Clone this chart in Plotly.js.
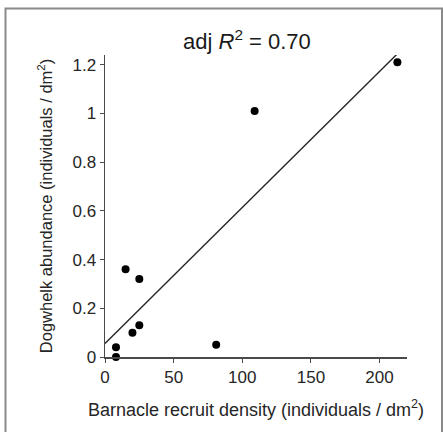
<!DOCTYPE html>
<html>
<head>
<meta charset="utf-8">
<script src="https://cdn.plot.ly/plotly-3.0.1.min.js"></script>
<style>
  html, body { margin: 0; padding: 0; background: #ffffff; }
  #chart { width: 443px; height: 432px; }
</style>
</head>
<body>
<div id="chart"></div>
<script>
// Data
const barnacleDensity = [8, 8, 15, 25, 20, 25, 81, 109, 213];
const dogwhelkAbundance = [0, 0.04, 0.36, 0.32, 0.10, 0.13, 0.05, 1.01, 1.21];
const fitX = [0, 213];
const fitY = [0.055, 1.245];
const xTickVals = [0, 50, 100, 150, 200];
const yTickVals = [0, 0.2, 0.4, 0.6, 0.8, 1, 1.2];

const textColor = '#262626';
const axisColor = '#4a4a4a';

const traces = [
  {
    x: fitX, y: fitY, type: 'scatter', mode: 'lines',
    line: { color: '#262626', width: 1.4 },
    hoverinfo: 'skip', showlegend: false, cliponaxis: false
  },
  {
    x: barnacleDensity, y: dogwhelkAbundance, type: 'scatter', mode: 'markers',
    marker: { color: '#000000', size: 8 },
    showlegend: false, cliponaxis: false
  }
];

const layout = {
  width: 443, height: 432,
  margin: { l: 105, r: 36, t: 55, b: 75 },
  paper_bgcolor: '#ffffff', plot_bgcolor: '#ffffff',
  font: { family: 'Liberation Sans, Arial, sans-serif', color: textColor, size: 17 },
  title: {
    text: 'adj <i>R</i><sup>2</sup> = 0.70',
    font: { size: 22, color: '#1a1a1a' },
    xref: 'paper', x: 0.47, xanchor: 'center',
    yref: 'container', y: 0.905, yanchor: 'middle'
  },
  xaxis: {
    range: [0, 220], tickvals: xTickVals,
    showgrid: false, zeroline: false,
    showline: true, linecolor: axisColor, linewidth: 1.5,
    ticks: 'outside', ticklen: 4, tickcolor: axisColor, tickwidth: 1,
    tickfont: { size: 17, color: textColor },
    title: { text: 'Barnacle recruit density (individuals / dm<sup>2</sup>)', font: { size: 18, color: textColor }, standoff: 17 }
  },
  yaxis: {
    range: [0, 1.24], tickvals: yTickVals,
    showgrid: false, zeroline: false,
    showline: true, linecolor: axisColor, linewidth: 1.5,
    ticks: 'outside', ticklen: 4, tickcolor: axisColor, tickwidth: 1,
    tickfont: { size: 17, color: textColor },
    title: { text: 'Dogwhelk abundance (individuals / dm<sup>2</sup>)', font: { size: 16.5, color: textColor }, standoff: 15 }
  },
  shapes: [
    {
      type: 'rect', xref: 'paper', yref: 'paper',
      x0: (5.5 - 105) / 302, x1: (442 - 105) / 302,
      y0: (357 - 445) / 302, y1: (357 - 8.5) / 302,
      line: { color: '#8a8a8a', width: 2 }, fillcolor: 'rgba(0,0,0,0)', layer: 'below'
    }
  ]
};

Plotly.newPlot('chart', traces, layout, { displayModeBar: false, staticPlot: true });
</script>
</body>
</html>
